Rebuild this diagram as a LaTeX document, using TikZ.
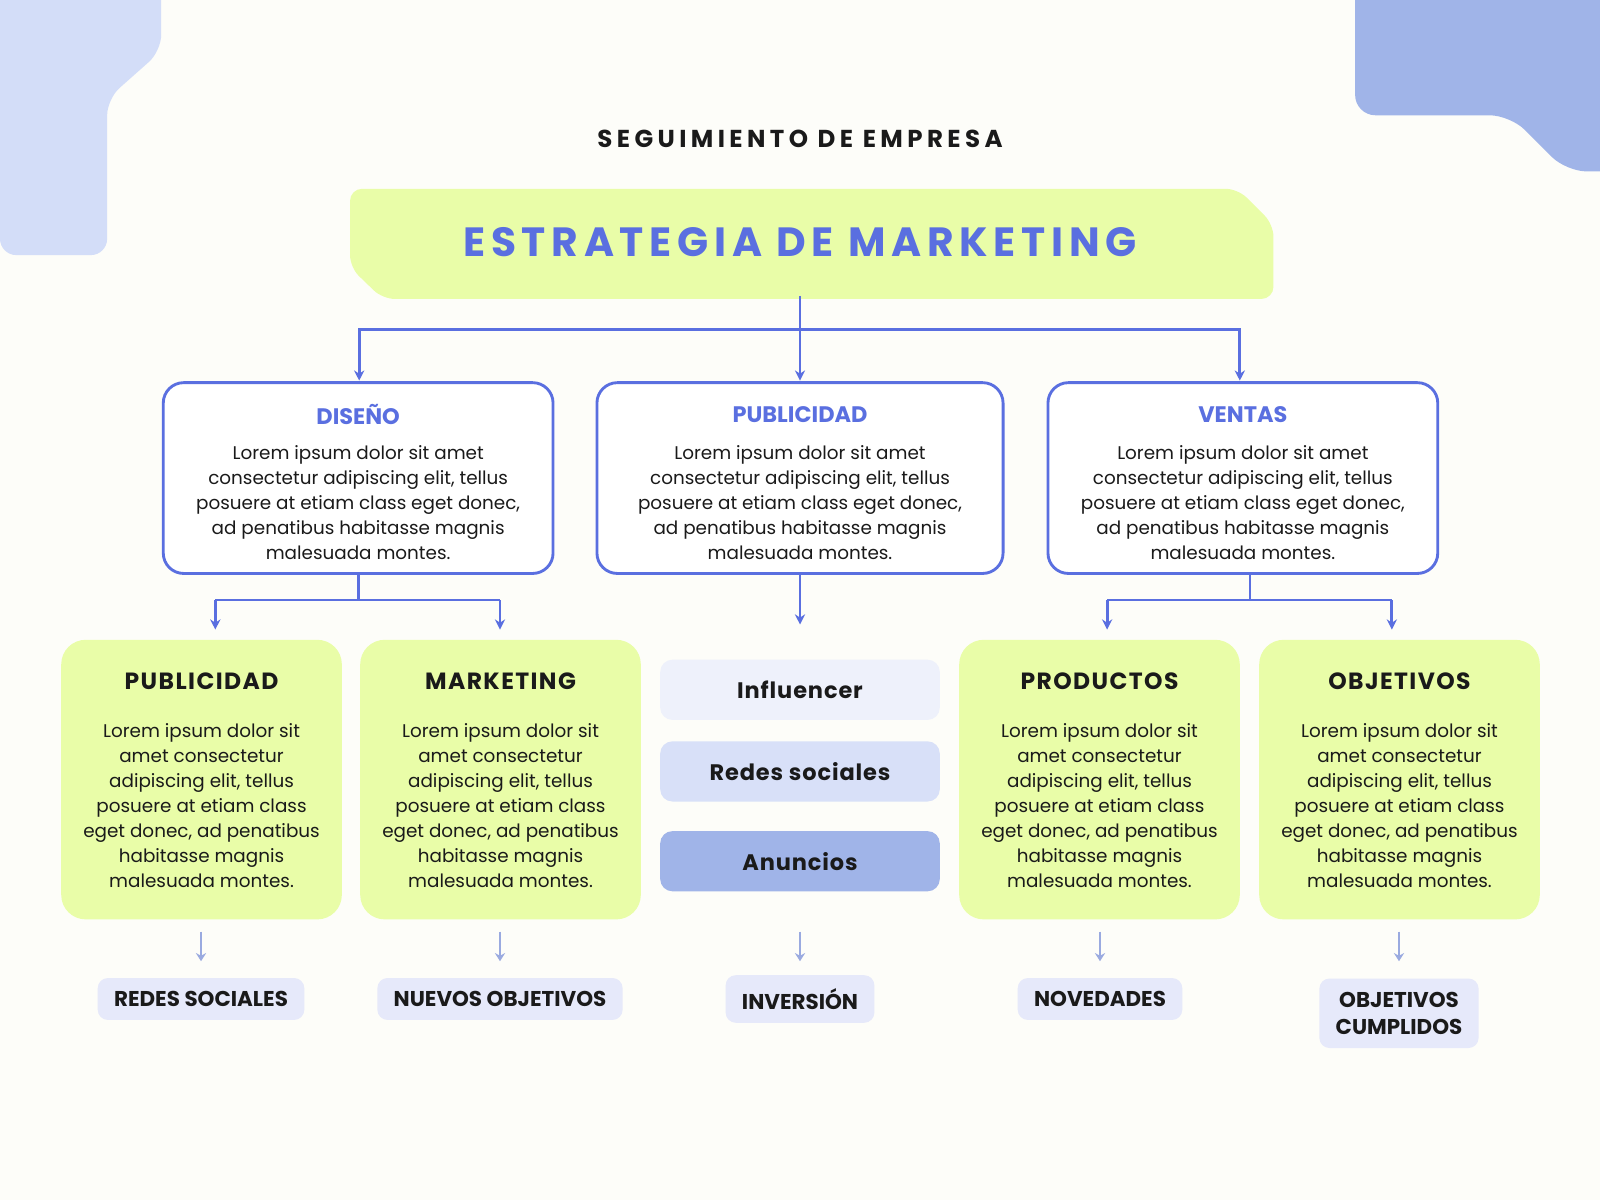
\documentclass[tikz,border=0pt]{standalone}
\usepackage{fontspec}
\setmainfont{Poppins}
\usetikzlibrary{arrows.meta}
\definecolor{bg}{HTML}{FDFDF9}
\definecolor{deco1}{HTML}{D3DDF8}
\definecolor{deco2}{HTML}{A0B4E8}
\definecolor{lime}{HTML}{E9FDA8}
\definecolor{blu}{HTML}{5A6FE0}
\definecolor{lblu}{HTML}{9AAAE0}
\definecolor{pill1}{HTML}{EEF1FB}
\definecolor{pill2}{HTML}{D8E0F8}
\definecolor{lab}{HTML}{E6E9FA}
\definecolor{ink}{HTML}{1A1A1A}
\begin{document}
\begin{tikzpicture}[x=0.5pt,y=-0.5pt,
  wbox/.style={draw=blu,line width=1.4pt,fill=white,rounded corners=10pt},
  gbox/.style={fill=lime,rounded corners=12pt},
  pill/.style={rounded corners=6pt,minimum width=137pt,minimum height=29.5pt,font=\fontsize{11}{13}\selectfont\bfseries\addfontfeatures{LetterSpace=4},text=ink},
  lbl/.style={fill=lab,rounded corners=5pt,inner xsep=8pt,inner ysep=6.5pt,font=\fontsize{10.5}{13.5}\selectfont\bfseries,text=ink,align=center},
  body/.style={font=\fontsize{9}{12.25}\selectfont,text=ink,align=center,anchor=north},
  wtitle/.style={font=\fontsize{11}{13}\selectfont\bfseries,text=blu},
  gtitle/.style={font=\fontsize{11.5}{13}\selectfont\bfseries\addfontfeatures{LetterSpace=6},text=ink},
  arr/.style={draw=blu,line width=1.4pt,-{Stealth[length=5pt,width=5pt]}},
  ln/.style={draw=blu,line width=1.4pt},
  sarr/.style={draw=lblu,line width=1.3pt,-{Stealth[length=4pt,width=5pt]}}]
\fill[bg] (0,0) rectangle (1568,1176);
\useasboundingbox (0,0) rectangle (1568,1176);
\fill[deco1,rounded corners=8pt] (0,-20) -- (158,-20) -- (158,50) -- (105,97) -- (105,250) -- (0,250) -- cycle;
\fill[deco2,rounded corners=10pt] (1328,-20) -- (1588,-20) -- (1588,168) -- (1535,168) -- (1480,113) -- (1328,113) -- cycle;
\node[font=\fontsize{12}{14}\selectfont\bfseries\addfontfeatures{LetterSpace=18},text=ink] (sub) at (784,136) {SEGUIMIENTO DE EMPRESA};
\fill[lime,rounded corners=6pt] (343,185) -- (1213,185) -- (1248,220) -- (1248,293) -- (375,293) -- (343,262) -- cycle;
\node[font=\fontsize{20}{22}\selectfont\bfseries\addfontfeatures{LetterSpace=14},text=blu] (main) at (784,237) {ESTRATEGIA DE MARKETING};
\coordinate (mb) at (784,290);
\foreach \n/\xa/\xb/\t in {dis/160/542/DISEÑO,pub/585/983/PUBLICIDAD,ven/1027/1409/VENTAS}{
  \draw[wbox] (\xa,375) rectangle (\xb,562);
  \node[wtitle] (\n t) at ({(\xa+\xb)/2},406) {\t};
  \node[body] (\n b) at ({(\xa+\xb)/2},430) {Lorem ipsum dolor sit amet\\consectetur adipiscing elit, tellus\\posuere at etiam class eget donec,\\ad penatibus habitasse magnis\\malesuada montes.};
}
\coordinate (d1) at (352,373); \coordinate (d2) at (784,373); \coordinate (d3) at (1215,373);
\draw[ln] (mb) -- (784,323);
\draw[arr] (784,323) -- (d2);
\draw[arr] (784,323) -- (352,323) -- (d1);
\draw[arr] (784,323) -- (1215,323) -- (d3);
\foreach \n/\xa/\t in {gp/60/PUBLICIDAD,gm/353/MARKETING,gr/940/PRODUCTOS,go/1234/OBJETIVOS}{
  \fill[gbox] (\xa,627) rectangle ({\xa+275},901);
  \node[gtitle] (\n t) at ({\xa+137.5},668) {\t};
  \node[body] (\n b) at ({\xa+137.5},702) {Lorem ipsum dolor sit\\amet consectetur\\adipiscing elit, tellus\\posuere at etiam class\\eget donec, ad penatibus\\habitasse magnis\\malesuada montes.};
}
\draw[ln] (351,563) -- (351,588);
\draw[arr] (211,588) -- (211,617); \draw[arr] (490,588) -- (490,617);
\draw[ln] (211,588) -- (490,588);
\draw[arr] (784,563) -- (784,612);
\draw[ln] (1225,563) -- (1225,588);
\draw[ln] (1085,588) -- (1364,588);
\draw[arr] (1085,588) -- (1085,617); \draw[arr] (1364,588) -- (1364,617);
\node[pill,fill=pill1] (inf) at (784,676) {Influencer};
\node[pill,fill=pill2] (red) at (784,756) {Redes sociales};
\node[pill,fill=deco2] (anu) at (784,844) {Anuncios};
\foreach \x in {197,490,784,1078,1371}{\draw[sarr] (\x,913) -- (\x,942);}
\node[lbl] (l1) at (197,979) {REDES SOCIALES};
\node[lbl] (l2) at (490,979) {NUEVOS OBJETIVOS};
\node[lbl] (l3) at (784,979) {INVERSIÓN};
\node[lbl] (l4) at (1078,979) {NOVEDADES};
\node[lbl] (l5) at (1371,993) {OBJETIVOS\\CUMPLIDOS};
\end{tikzpicture}
\end{document}
